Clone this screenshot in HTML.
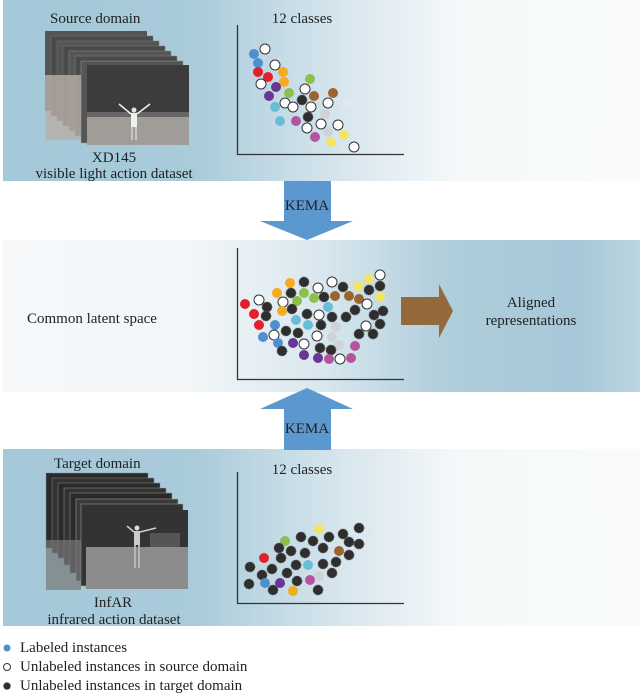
<!DOCTYPE html>
<html><head><meta charset="utf-8"><style>
html,body{margin:0;padding:0;background:#fff;}
svg{display:block}
text{font-family:"Liberation Serif",serif;fill:#222;}
.b{fill:#4f8fd0}.r{fill:#e3202a}.o{fill:#f5ab1e}.p{fill:#6a3595}.g{fill:#8cc04b}.n{fill:#9a6530}
.k{fill:#2e2e2e;stroke:#555;stroke-width:0.8;stroke-dasharray:1 1}.c{fill:#6bbcd8}.m{fill:#b4549e}.l{fill:#cfd3d6}.y{fill:#f2e466}
.w{fill:#fff;stroke:#333;stroke-width:1}.f{fill:#dde9ef}
</style></head><body>
<svg width="640" height="694" viewBox="0 0 640 694" xmlns="http://www.w3.org/2000/svg">
<defs>
<linearGradient id="g1" x1="0" x2="1" y1="0" y2="0">
<stop offset="0" stop-color="#a4c8d8"/><stop offset="0.3" stop-color="#a9cbda"/><stop offset="0.55" stop-color="#dbe8ef"/><stop offset="0.72" stop-color="#f6f9fa"/><stop offset="1" stop-color="#f8fafb"/>
</linearGradient>
<linearGradient id="g2" x1="0" x2="1" y1="0" y2="0">
<stop offset="0" stop-color="#f6f8fa"/><stop offset="0.3" stop-color="#f2f6f8"/><stop offset="0.5" stop-color="#d9e7ee"/><stop offset="0.7" stop-color="#afcddb"/><stop offset="0.9" stop-color="#a6c8d8"/><stop offset="1" stop-color="#bcd6e2"/>
</linearGradient>
</defs>
<rect x="3" y="0" width="637" height="181" fill="url(#g1)"/>
<rect x="3" y="240" width="637" height="152" fill="url(#g2)"/>
<rect x="3" y="449" width="637" height="177" fill="url(#g1)"/>

<polygon points="284,181 331,181 331,221 353,221 307,240 260,221 284,221" fill="#5a98cf"/>
<text x="307" y="210" font-size="15" text-anchor="middle">KEMA</text>
<polygon points="307,388 353,409 331,409 331,450 284,450 284,409 260,409" fill="#5a98cf"/>
<text x="307" y="433" font-size="15" text-anchor="middle">KEMA</text>
<polygon points="401,297 439,297 439,284 453,311 439,338 439,325 401,325" fill="#946a3c"/>

<text x="50" y="23" font-size="15">Source domain</text>
<text x="302" y="23" font-size="15" text-anchor="middle">12 classes</text>
<g>
<rect x="45" y="31" width="102" height="80" fill="#555"/>
<rect x="51" y="36" width="102" height="80" fill="#4a4a4a" stroke="#777" stroke-width="0.5"/>
<rect x="57" y="41" width="102" height="80" fill="#555" stroke="#777" stroke-width="0.5"/>
<rect x="63" y="46" width="102" height="80" fill="#4a4a4a" stroke="#777" stroke-width="0.5"/>
<rect x="69" y="51" width="102" height="80" fill="#555" stroke="#888" stroke-width="0.5"/>
<rect x="75" y="56" width="102" height="80" fill="#4a4a4a" stroke="#888" stroke-width="0.5"/>
<rect x="81" y="61" width="102" height="82" fill="#555" stroke="#999" stroke-width="0.5"/>
<rect x="45" y="75" width="36" height="65" fill="#b8b0a6" opacity="0.8"/>
<rect x="87" y="65" width="102" height="80" fill="#3c3c3c"/>
<rect x="87" y="117" width="102" height="28" fill="#a09d98"/>
<rect x="87" y="112" width="102" height="5" fill="#666"/>
<circle cx="134" cy="110" r="2.5" fill="#e8e4df"/>
<rect x="131" y="113" width="6" height="14" fill="#f0f0f0"/>
<line x1="131" y1="114" x2="119" y2="104" stroke="#eee" stroke-width="1.6"/>
<line x1="137" y1="114" x2="150" y2="104" stroke="#eee" stroke-width="1.6"/>
<line x1="132" y1="127" x2="132" y2="140" stroke="#ccc" stroke-width="1.8"/>
<line x1="136" y1="127" x2="136" y2="140" stroke="#ccc" stroke-width="1.8"/>
</g>
<text x="114" y="162" font-size="15" text-anchor="middle">XD145</text>
<text x="114" y="178" font-size="15" text-anchor="middle">visible light action dataset</text>
<path d="M237.5 25 V154.5 H404" fill="none" stroke="#333" stroke-width="1.3"/>
<g>
<circle class="b" cx="254" cy="54" r="5"/><circle class="w" cx="265" cy="49" r="5"/>
<circle class="b" cx="258" cy="63" r="5"/><circle class="w" cx="275" cy="65" r="5"/>
<circle class="r" cx="258" cy="72" r="5"/><circle class="r" cx="268" cy="77" r="5"/>
<circle class="o" cx="283" cy="72" r="5"/><circle class="w" cx="261" cy="84" r="5"/>
<circle class="o" cx="284" cy="82" r="5"/><circle class="p" cx="276" cy="87" r="5"/>
<circle class="g" cx="310" cy="79" r="5"/><circle class="w" cx="305" cy="89" r="5"/>
<circle class="p" cx="269" cy="96" r="5"/><circle class="g" cx="289" cy="93" r="5"/>
<circle class="n" cx="314" cy="96" r="5"/><circle class="n" cx="333" cy="93" r="5"/>
<circle class="k" cx="302" cy="100" r="5"/><circle class="w" cx="285" cy="103" r="5"/>
<circle class="w" cx="293" cy="107" r="5"/><circle class="w" cx="311" cy="107" r="5"/>
<circle class="w" cx="328" cy="103" r="5"/><circle class="f" cx="348" cy="103" r="5"/>
<circle class="c" cx="275" cy="107" r="5"/><circle class="l" cx="325" cy="114" r="5"/>
<circle class="k" cx="308" cy="117" r="5"/><circle class="c" cx="280" cy="121" r="5"/>
<circle class="m" cx="296" cy="121" r="5"/><circle class="w" cx="321" cy="124" r="5"/>
<circle class="w" cx="307" cy="128" r="5"/><circle class="w" cx="338" cy="125" r="5"/>
<circle class="l" cx="328" cy="132" r="5"/><circle class="y" cx="344" cy="135" r="5"/>
<circle class="m" cx="315" cy="137" r="5"/><circle class="y" cx="331" cy="142" r="5"/>
<circle class="w" cx="354" cy="147" r="5"/>
</g>

<text x="27" y="323" font-size="15">Common latent space</text>
<text x="531" y="307" font-size="15" text-anchor="middle">Aligned</text>
<text x="531" y="325" font-size="15" text-anchor="middle">representations</text>
<path d="M237.5 248 V379.5 H404" fill="none" stroke="#333" stroke-width="1.3"/>
<g>
<circle class="r" cx="245" cy="304" r="5"/><circle class="w" cx="259" cy="300" r="5"/>
<circle class="k" cx="267" cy="307" r="5"/><circle class="r" cx="254" cy="314" r="5"/>
<circle class="k" cx="266" cy="316" r="5"/><circle class="r" cx="259" cy="325" r="5"/>
<circle class="o" cx="277" cy="293" r="5"/><circle class="o" cx="290" cy="283" r="5"/>
<circle class="k" cx="304" cy="282" r="5"/><circle class="k" cx="291" cy="293" r="5"/>
<circle class="g" cx="304" cy="293" r="5"/><circle class="w" cx="318" cy="288" r="5"/>
<circle class="w" cx="332" cy="282" r="5"/><circle class="k" cx="343" cy="287" r="5"/>
<circle class="y" cx="358" cy="286" r="5"/><circle class="y" cx="369" cy="279" r="5"/>
<circle class="w" cx="380" cy="275" r="5"/><circle class="k" cx="380" cy="286" r="5"/>
<circle class="k" cx="369" cy="290" r="5"/><circle class="y" cx="380" cy="297" r="5"/>
<circle class="w" cx="283" cy="302" r="5"/><circle class="g" cx="297" cy="301" r="5"/>
<circle class="g" cx="314" cy="298" r="5"/><circle class="k" cx="324" cy="297" r="5"/>
<circle class="n" cx="335" cy="296" r="5"/><circle class="n" cx="349" cy="296" r="5"/>
<circle class="n" cx="359" cy="299" r="5"/><circle class="w" cx="367" cy="304" r="5"/>
<circle class="k" cx="355" cy="310" r="5"/><circle class="o" cx="282" cy="311" r="5"/>
<circle class="k" cx="292" cy="309" r="5"/><circle class="k" cx="307" cy="314" r="5"/>
<circle class="c" cx="328" cy="307" r="5"/><circle class="w" cx="319" cy="315" r="5"/>
<circle class="k" cx="332" cy="317" r="5"/><circle class="k" cx="346" cy="317" r="5"/>
<circle class="k" cx="383" cy="311" r="5"/><circle class="k" cx="374" cy="315" r="5"/>
<circle class="k" cx="380" cy="324" r="5"/><circle class="b" cx="275" cy="325" r="5"/>
<circle class="c" cx="296" cy="320" r="5"/><circle class="c" cx="308" cy="325" r="5"/>
<circle class="k" cx="321" cy="325" r="5"/><circle class="l" cx="336" cy="327" r="5"/>
<circle class="w" cx="366" cy="326" r="5"/><circle class="k" cx="286" cy="331" r="5"/>
<circle class="k" cx="298" cy="333" r="5"/><circle class="w" cx="274" cy="335" r="5"/>
<circle class="b" cx="263" cy="337" r="5"/><circle class="w" cx="317" cy="336" r="5"/>
<circle class="l" cx="332" cy="337" r="5"/><circle class="k" cx="359" cy="334" r="5"/>
<circle class="k" cx="373" cy="334" r="5"/><circle class="b" cx="278" cy="343" r="5"/>
<circle class="p" cx="293" cy="343" r="5"/><circle class="w" cx="304" cy="344" r="5"/>
<circle class="l" cx="339" cy="345" r="5"/><circle class="m" cx="355" cy="346" r="5"/>
<circle class="k" cx="282" cy="351" r="5"/><circle class="k" cx="320" cy="348" r="5"/>
<circle class="k" cx="331" cy="350" r="5"/><circle class="p" cx="304" cy="355" r="5"/>
<circle class="p" cx="318" cy="358" r="5"/><circle class="m" cx="329" cy="359" r="5"/>
<circle class="w" cx="340" cy="359" r="5"/><circle class="m" cx="351" cy="358" r="5"/>
</g>

<text x="54" y="468" font-size="15">Target domain</text>
<text x="302" y="474" font-size="15" text-anchor="middle">12 classes</text>
<g>
<rect x="46" y="473" width="102" height="75" fill="#2a2a2a" stroke="#888" stroke-width="0.5"/>
<rect x="52" y="478" width="102" height="75" fill="#333" stroke="#888" stroke-width="0.5"/>
<rect x="58" y="483" width="102" height="75" fill="#2a2a2a" stroke="#888" stroke-width="0.5"/>
<rect x="64" y="488" width="102" height="77" fill="#333" stroke="#999" stroke-width="0.5"/>
<rect x="70" y="493" width="102" height="80" fill="#2a2a2a" stroke="#999" stroke-width="0.5"/>
<rect x="76" y="499" width="102" height="82" fill="#3a3a3a" stroke="#aaa" stroke-width="0.5"/>
<rect x="81" y="504" width="102" height="82" fill="#333" stroke="#aaa" stroke-width="0.5"/>
<rect x="46" y="540" width="35" height="50" fill="#777" opacity="0.7"/>
<rect x="86" y="510" width="102" height="79" fill="#333"/>
<rect x="86" y="547" width="102" height="42" fill="#8c8c8c"/>
<rect x="150" y="533" width="30" height="14" fill="#555"/>
<circle cx="137" cy="528" r="2.5" fill="#ddd"/>
<rect x="134" y="531" width="6" height="14" fill="#ccc"/>
<line x1="134" y1="532" x2="127" y2="526" stroke="#ccc" stroke-width="1.6"/>
<line x1="140" y1="532" x2="156" y2="528" stroke="#ccc" stroke-width="1.6"/>
<line x1="135" y1="545" x2="135" y2="568" stroke="#bbb" stroke-width="1.8"/>
<line x1="139" y1="545" x2="139" y2="568" stroke="#bbb" stroke-width="1.8"/>
</g>
<text x="113" y="607" font-size="15" text-anchor="middle">InfAR</text>
<text x="114" y="624" font-size="15" text-anchor="middle">infrared action dataset</text>
<path d="M237.5 472 V603.5 H404" fill="none" stroke="#333" stroke-width="1.3"/>
<g>
<circle class="y" cx="319" cy="529" r="5"/><circle class="k" cx="359" cy="528" r="5"/>
<circle class="f" cx="370" cy="534" r="5"/><circle class="k" cx="301" cy="537" r="5"/>
<circle class="k" cx="313" cy="541" r="5"/><circle class="k" cx="329" cy="537" r="5"/>
<circle class="k" cx="343" cy="534" r="5"/><circle class="k" cx="349" cy="542" r="5"/>
<circle class="k" cx="359" cy="544" r="5"/><circle class="g" cx="285" cy="541" r="5"/>
<circle class="k" cx="279" cy="548" r="5"/><circle class="k" cx="291" cy="551" r="5"/>
<circle class="k" cx="305" cy="553" r="5"/><circle class="k" cx="323" cy="548" r="5"/>
<circle class="n" cx="339" cy="551" r="5"/><circle class="k" cx="349" cy="555" r="5"/>
<circle class="r" cx="264" cy="558" r="5"/><circle class="k" cx="281" cy="558" r="5"/>
<circle class="k" cx="250" cy="567" r="5"/><circle class="k" cx="272" cy="569" r="5"/>
<circle class="k" cx="296" cy="565" r="5"/><circle class="c" cx="308" cy="565" r="5"/>
<circle class="k" cx="323" cy="564" r="5"/><circle class="k" cx="336" cy="562" r="5"/>
<circle class="k" cx="262" cy="575" r="5"/><circle class="k" cx="287" cy="573" r="5"/>
<circle class="k" cx="297" cy="581" r="5"/><circle class="m" cx="310" cy="580" r="5"/>
<circle class="l" cx="319" cy="576" r="5"/><circle class="k" cx="332" cy="573" r="5"/>
<circle class="k" cx="249" cy="584" r="5"/><circle class="b" cx="265" cy="583" r="5"/>
<circle class="k" cx="273" cy="590" r="5"/><circle class="p" cx="280" cy="583" r="5"/>
<circle class="o" cx="293" cy="591" r="5"/><circle class="k" cx="318" cy="590" r="5"/>
</g>

<circle class="b" cx="7" cy="648" r="3.5"/>
<circle cx="7" cy="667" r="3.5" fill="#fff" stroke="#333" stroke-width="1"/>
<circle class="k" cx="7" cy="686" r="3.5"/>
<text x="20" y="652" font-size="15">Labeled instances</text>
<text x="20" y="671" font-size="15">Unlabeled instances in source domain</text>
<text x="20" y="690" font-size="15">Unlabeled instances in target domain</text>
</svg>
</body></html>
